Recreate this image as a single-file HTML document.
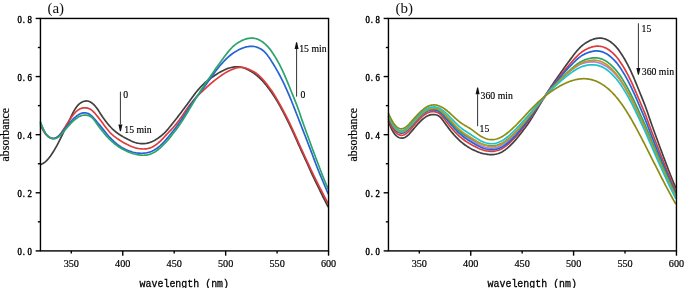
<!DOCTYPE html>
<html><head><meta charset="utf-8"><style>
html,body{margin:0;padding:0;background:#fff;}
body{width:685px;height:288px;overflow:hidden;}
svg{display:block;will-change:transform;}
.ax line,.ax rect{stroke:#000;stroke-width:1.4;}
.yt{font-family:"Liberation Serif",serif;font-size:10.2px;fill:#000;stroke:#000;stroke-width:0.45px;}
.xt{font-family:"Liberation Serif",serif;font-size:10.2px;text-anchor:middle;fill:#000;stroke:#000;stroke-width:0.2px;}
.xl{font-family:"Liberation Mono",monospace;font-size:10.8px;text-anchor:middle;fill:#000;stroke:#000;stroke-width:0.3px;}
.yl{font-family:"Liberation Serif",serif;font-size:11.9px;text-anchor:middle;fill:#000;stroke:#000;stroke-width:0.2px;}
.pl{font-family:"Liberation Serif",serif;font-size:15px;fill:#111;}
.an{font-family:"Liberation Serif",serif;font-size:9.75px;fill:#000;stroke:#000;stroke-width:0.15px;}
.cv path{fill:none;stroke-width:1.7;stroke-linejoin:round;stroke-linecap:butt;}
.ar{stroke:#333;stroke-width:1;}
.ah{fill:#111;}
</style></head><body>
<svg width="685" height="288" viewBox="0 0 685 288">
<g class="cv">
<path d="M40.3,164.79L41.3,164.31L42.3,163.80L43.3,163.23L44.3,162.58L45.3,161.82L46.3,160.93L47.3,159.91L48.3,158.76L49.3,157.50L50.3,156.16L51.3,154.74L52.3,153.25L53.3,151.70L54.3,150.08L55.3,148.40L56.3,146.65L57.3,144.83L58.3,142.93L59.3,140.96L60.3,138.94L61.3,136.88L62.3,134.81L63.3,132.74L64.3,130.68L65.3,128.62L66.3,126.57L67.3,124.51L68.3,122.44L69.3,120.36L70.3,118.26L71.3,116.17L72.3,114.12L73.3,112.16L74.3,110.32L75.3,108.66L76.3,107.19L77.3,105.91L78.3,104.83L79.3,103.92L80.3,103.15L81.3,102.50L82.3,101.97L83.3,101.54L84.3,101.22L85.3,101.03L86.3,100.96L87.3,101.02L88.3,101.21L89.3,101.53L90.3,101.98L91.3,102.57L92.3,103.29L93.3,104.14L94.3,105.10L95.3,106.20L96.3,107.42L97.3,108.79L98.3,110.28L99.3,111.86L100.3,113.46L101.3,115.03L102.3,116.53L103.3,117.96L104.3,119.32L105.3,120.65L106.3,121.94L107.3,123.20L108.3,124.42L109.3,125.59L110.3,126.70L111.3,127.77L112.3,128.79L113.3,129.75L114.3,130.65L115.3,131.50L116.3,132.30L117.3,133.05L118.3,133.76L119.3,134.43L120.3,135.08L121.3,135.69L122.3,136.29L123.3,136.88L124.3,137.44L125.3,138.00L126.3,138.55L127.3,139.08L128.3,139.61L129.3,140.11L130.3,140.59L131.3,141.05L132.3,141.47L133.3,141.86L134.3,142.22L135.3,142.53L136.3,142.81L137.3,143.05L138.3,143.25L139.3,143.41L140.3,143.53L141.3,143.61L142.3,143.66L143.3,143.65L144.3,143.60L145.3,143.50L146.3,143.35L147.3,143.16L148.3,142.91L149.3,142.63L150.3,142.29L151.3,141.91L152.3,141.48L153.3,141.00L154.3,140.48L155.3,139.92L156.3,139.31L157.3,138.67L158.3,137.99L159.3,137.27L160.3,136.51L161.3,135.72L162.3,134.89L163.3,134.00L164.3,133.06L165.3,132.06L166.3,130.99L167.3,129.88L168.3,128.72L169.3,127.54L170.3,126.32L171.3,125.09L172.3,123.84L173.3,122.58L174.3,121.30L175.3,120.02L176.3,118.72L177.3,117.42L178.3,116.11L179.3,114.80L180.3,113.49L181.3,112.17L182.3,110.85L183.3,109.53L184.3,108.20L185.3,106.86L186.3,105.51L187.3,104.16L188.3,102.79L189.3,101.41L190.3,100.04L191.3,98.66L192.3,97.30L193.3,95.96L194.3,94.63L195.3,93.33L196.3,92.05L197.3,90.81L198.3,89.61L199.3,88.46L200.3,87.35L201.3,86.29L202.3,85.27L203.3,84.31L204.3,83.39L205.3,82.51L206.3,81.67L207.3,80.86L208.3,80.07L209.3,79.31L210.3,78.57L211.3,77.85L212.3,77.13L213.3,76.44L214.3,75.75L215.3,75.08L216.3,74.42L217.3,73.77L218.3,73.15L219.3,72.55L220.3,71.97L221.3,71.42L222.3,70.90L223.3,70.40L224.3,69.92L225.3,69.47L226.3,69.05L227.3,68.66L228.3,68.31L229.3,67.99L230.3,67.71L231.3,67.47L232.3,67.26L233.3,67.09L234.3,66.95L235.3,66.85L236.3,66.80L237.3,66.79L238.3,66.82L239.3,66.91L240.3,67.04L241.3,67.22L242.3,67.44L243.3,67.72L244.3,68.05L245.3,68.44L246.3,68.88L247.3,69.36L248.3,69.88L249.3,70.43L250.3,71.00L251.3,71.59L252.3,72.21L253.3,72.86L254.3,73.56L255.3,74.31L256.3,75.10L257.3,75.94L258.3,76.82L259.3,77.74L260.3,78.69L261.3,79.67L262.3,80.70L263.3,81.77L264.3,82.90L265.3,84.09L266.3,85.33L267.3,86.61L268.3,87.94L269.3,89.30L270.3,90.68L271.3,92.09L272.3,93.52L273.3,95.00L274.3,96.52L275.3,98.10L276.3,99.73L277.3,101.40L278.3,103.12L279.3,104.87L280.3,106.66L281.3,108.47L282.3,110.31L283.3,112.19L284.3,114.10L285.3,116.05L286.3,118.04L287.3,120.05L288.3,122.10L289.3,124.17L290.3,126.27L291.3,128.40L292.3,130.56L293.3,132.75L294.3,134.99L295.3,137.24L296.3,139.51L297.3,141.78L298.3,144.03L299.3,146.25L300.3,148.44L301.3,150.61L302.3,152.77L303.3,154.94L304.3,157.11L305.3,159.31L306.3,161.52L307.3,163.74L308.3,165.97L309.3,168.20L310.3,170.41L311.3,172.61L312.3,174.78L313.3,176.90L314.3,178.99L315.3,181.03L316.3,183.06L317.3,185.09L318.3,187.14L319.3,189.21L320.3,191.31L321.3,193.40L322.3,195.47L323.3,197.50L324.3,199.49L325.3,201.45L326.3,203.39L327.3,205.31L328.3,207.21" stroke="#404040"/>
<path d="M40.3,124.55L41.3,126.79L42.3,128.89L43.3,130.77L44.3,132.41L45.3,133.81L46.3,134.98L47.3,135.94L48.3,136.72L49.3,137.35L50.3,137.83L51.3,138.19L52.3,138.41L53.3,138.49L54.3,138.43L55.3,138.22L56.3,137.83L57.3,137.24L58.3,136.43L59.3,135.39L60.3,134.16L61.3,132.78L62.3,131.29L63.3,129.76L64.3,128.19L65.3,126.61L66.3,125.03L67.3,123.46L68.3,121.90L69.3,120.37L70.3,118.88L71.3,117.44L72.3,116.06L73.3,114.76L74.3,113.56L75.3,112.47L76.3,111.48L77.3,110.61L78.3,109.85L79.3,109.22L80.3,108.71L81.3,108.32L82.3,108.04L83.3,107.86L84.3,107.77L85.3,107.78L86.3,107.87L87.3,108.05L88.3,108.34L89.3,108.73L90.3,109.24L91.3,109.88L92.3,110.66L93.3,111.58L94.3,112.61L95.3,113.74L96.3,114.93L97.3,116.15L98.3,117.40L99.3,118.67L100.3,119.98L101.3,121.31L102.3,122.66L103.3,124.02L104.3,125.38L105.3,126.73L106.3,128.05L107.3,129.33L108.3,130.55L109.3,131.72L110.3,132.80L111.3,133.80L112.3,134.72L113.3,135.58L114.3,136.39L115.3,137.16L116.3,137.90L117.3,138.62L118.3,139.32L119.3,139.99L120.3,140.64L121.3,141.27L122.3,141.87L123.3,142.45L124.3,143.01L125.3,143.55L126.3,144.07L127.3,144.58L128.3,145.06L129.3,145.54L130.3,145.99L131.3,146.41L132.3,146.81L133.3,147.18L134.3,147.51L135.3,147.81L136.3,148.06L137.3,148.29L138.3,148.48L139.3,148.65L140.3,148.78L141.3,148.89L142.3,148.96L143.3,148.99L144.3,148.97L145.3,148.90L146.3,148.79L147.3,148.63L148.3,148.43L149.3,148.16L150.3,147.83L151.3,147.44L152.3,146.97L153.3,146.43L154.3,145.84L155.3,145.18L156.3,144.47L157.3,143.71L158.3,142.89L159.3,142.01L160.3,141.09L161.3,140.12L162.3,139.11L163.3,138.07L164.3,137.01L165.3,135.93L166.3,134.86L167.3,133.78L168.3,132.72L169.3,131.66L170.3,130.61L171.3,129.57L172.3,128.50L173.3,127.42L174.3,126.29L175.3,125.12L176.3,123.90L177.3,122.64L178.3,121.32L179.3,119.97L180.3,118.58L181.3,117.17L182.3,115.74L183.3,114.28L184.3,112.80L185.3,111.31L186.3,109.82L187.3,108.35L188.3,106.91L189.3,105.53L190.3,104.19L191.3,102.91L192.3,101.67L193.3,100.47L194.3,99.32L195.3,98.20L196.3,97.11L197.3,96.07L198.3,95.05L199.3,94.08L200.3,93.13L201.3,92.20L202.3,91.28L203.3,90.37L204.3,89.45L205.3,88.53L206.3,87.61L207.3,86.69L208.3,85.77L209.3,84.87L210.3,83.99L211.3,83.13L212.3,82.29L213.3,81.48L214.3,80.67L215.3,79.89L216.3,79.11L217.3,78.35L218.3,77.60L219.3,76.87L220.3,76.15L221.3,75.45L222.3,74.78L223.3,74.12L224.3,73.49L225.3,72.88L226.3,72.30L227.3,71.74L228.3,71.21L229.3,70.70L230.3,70.22L231.3,69.77L232.3,69.35L233.3,68.96L234.3,68.61L235.3,68.28L236.3,68.00L237.3,67.76L238.3,67.58L239.3,67.46L240.3,67.41L241.3,67.42L242.3,67.50L243.3,67.64L244.3,67.84L245.3,68.10L246.3,68.41L247.3,68.76L248.3,69.14L249.3,69.55L250.3,69.98L251.3,70.43L252.3,70.92L253.3,71.44L254.3,72.01L255.3,72.63L256.3,73.31L257.3,74.06L258.3,74.88L259.3,75.77L260.3,76.74L261.3,77.76L262.3,78.84L263.3,79.97L264.3,81.13L265.3,82.34L266.3,83.58L267.3,84.86L268.3,86.18L269.3,87.54L270.3,88.93L271.3,90.36L272.3,91.82L273.3,93.32L274.3,94.87L275.3,96.48L276.3,98.13L277.3,99.84L278.3,101.59L279.3,103.38L280.3,105.18L281.3,107.00L282.3,108.83L283.3,110.68L284.3,112.54L285.3,114.42L286.3,116.34L287.3,118.31L288.3,120.32L289.3,122.39L290.3,124.50L291.3,126.64L292.3,128.81L293.3,130.99L294.3,133.19L295.3,135.40L296.3,137.63L297.3,139.86L298.3,142.09L299.3,144.31L300.3,146.53L301.3,148.74L302.3,150.93L303.3,153.13L304.3,155.31L305.3,157.49L306.3,159.66L307.3,161.83L308.3,163.98L309.3,166.13L310.3,168.26L311.3,170.37L312.3,172.45L313.3,174.52L314.3,176.56L315.3,178.59L316.3,180.60L317.3,182.60L318.3,184.59L319.3,186.57L320.3,188.54L321.3,190.50L322.3,192.45L323.3,194.39L324.3,196.31L325.3,198.22L326.3,200.13L327.3,202.02L328.3,203.92" stroke="#e03b3b"/>
<path d="M40.3,122.61L41.3,124.87L42.3,127.10L43.3,129.23L44.3,131.19L45.3,132.90L46.3,134.32L47.3,135.48L48.3,136.41L49.3,137.14L50.3,137.71L51.3,138.13L52.3,138.38L53.3,138.45L54.3,138.34L55.3,138.05L56.3,137.59L57.3,136.98L58.3,136.21L59.3,135.31L60.3,134.30L61.3,133.21L62.3,132.04L63.3,130.82L64.3,129.56L65.3,128.27L66.3,126.98L67.3,125.71L68.3,124.45L69.3,123.24L70.3,122.07L71.3,120.97L72.3,119.92L73.3,118.92L74.3,117.99L75.3,117.11L76.3,116.29L77.3,115.54L78.3,114.87L79.3,114.29L80.3,113.80L81.3,113.41L82.3,113.12L83.3,112.93L84.3,112.84L85.3,112.87L86.3,113.00L87.3,113.25L88.3,113.62L89.3,114.13L90.3,114.79L91.3,115.60L92.3,116.55L93.3,117.60L94.3,118.71L95.3,119.87L96.3,121.05L97.3,122.24L98.3,123.44L99.3,124.66L100.3,125.89L101.3,127.13L102.3,128.38L103.3,129.63L104.3,130.89L105.3,132.13L106.3,133.36L107.3,134.56L108.3,135.71L109.3,136.83L110.3,137.90L111.3,138.93L112.3,139.93L113.3,140.88L114.3,141.79L115.3,142.67L116.3,143.51L117.3,144.31L118.3,145.07L119.3,145.80L120.3,146.49L121.3,147.15L122.3,147.76L123.3,148.34L124.3,148.87L125.3,149.37L126.3,149.83L127.3,150.25L128.3,150.65L129.3,151.02L130.3,151.36L131.3,151.68L132.3,151.98L133.3,152.25L134.3,152.49L135.3,152.70L136.3,152.87L137.3,153.01L138.3,153.11L139.3,153.18L140.3,153.23L141.3,153.25L142.3,153.24L143.3,153.21L144.3,153.14L145.3,153.03L146.3,152.88L147.3,152.70L148.3,152.47L149.3,152.19L150.3,151.86L151.3,151.47L152.3,151.02L153.3,150.52L154.3,149.96L155.3,149.35L156.3,148.69L157.3,147.98L158.3,147.22L159.3,146.40L160.3,145.54L161.3,144.62L162.3,143.66L163.3,142.65L164.3,141.59L165.3,140.49L166.3,139.35L167.3,138.17L168.3,136.96L169.3,135.74L170.3,134.50L171.3,133.26L172.3,132.01L173.3,130.76L174.3,129.50L175.3,128.23L176.3,126.93L177.3,125.60L178.3,124.24L179.3,122.85L180.3,121.43L181.3,119.97L182.3,118.49L183.3,116.97L184.3,115.42L185.3,113.84L186.3,112.22L187.3,110.58L188.3,108.95L189.3,107.33L190.3,105.75L191.3,104.23L192.3,102.76L193.3,101.34L194.3,99.96L195.3,98.62L196.3,97.31L197.3,96.03L198.3,94.77L199.3,93.51L200.3,92.26L201.3,90.99L202.3,89.69L203.3,88.36L204.3,86.99L205.3,85.59L206.3,84.17L207.3,82.75L208.3,81.32L209.3,79.91L210.3,78.50L211.3,77.10L212.3,75.70L213.3,74.31L214.3,72.92L215.3,71.56L216.3,70.22L217.3,68.91L218.3,67.66L219.3,66.45L220.3,65.28L221.3,64.16L222.3,63.06L223.3,62.00L224.3,60.95L225.3,59.93L226.3,58.92L227.3,57.95L228.3,57.00L229.3,56.10L230.3,55.26L231.3,54.47L232.3,53.73L233.3,53.04L234.3,52.39L235.3,51.77L236.3,51.18L237.3,50.62L238.3,50.08L239.3,49.56L240.3,49.07L241.3,48.62L242.3,48.20L243.3,47.82L244.3,47.49L245.3,47.19L246.3,46.93L247.3,46.72L248.3,46.54L249.3,46.40L250.3,46.32L251.3,46.28L252.3,46.30L253.3,46.38L254.3,46.53L255.3,46.74L256.3,47.02L257.3,47.36L258.3,47.75L259.3,48.21L260.3,48.73L261.3,49.32L262.3,49.99L263.3,50.76L264.3,51.64L265.3,52.64L266.3,53.77L267.3,55.03L268.3,56.39L269.3,57.83L270.3,59.33L271.3,60.88L272.3,62.46L273.3,64.07L274.3,65.71L275.3,67.39L276.3,69.12L277.3,70.88L278.3,72.69L279.3,74.53L280.3,76.42L281.3,78.36L282.3,80.35L283.3,82.39L284.3,84.47L285.3,86.60L286.3,88.79L287.3,91.03L288.3,93.32L289.3,95.68L290.3,98.09L291.3,100.54L292.3,103.04L293.3,105.56L294.3,108.11L295.3,110.66L296.3,113.20L297.3,115.74L298.3,118.28L299.3,120.84L300.3,123.41L301.3,125.99L302.3,128.58L303.3,131.17L304.3,133.75L305.3,136.31L306.3,138.87L307.3,141.44L308.3,144.02L309.3,146.63L310.3,149.26L311.3,151.91L312.3,154.57L313.3,157.24L314.3,159.91L315.3,162.57L316.3,165.20L317.3,167.79L318.3,170.31L319.3,172.77L320.3,175.18L321.3,177.54L322.3,179.89L323.3,182.25L324.3,184.60L325.3,186.97L326.3,189.35L327.3,191.73L328.3,194.12" stroke="#2563d6"/>
<path d="M40.3,121.63L41.3,124.32L42.3,126.85L43.3,129.17L44.3,131.21L45.3,132.94L46.3,134.38L47.3,135.55L48.3,136.49L49.3,137.25L50.3,137.85L51.3,138.29L52.3,138.59L53.3,138.73L54.3,138.72L55.3,138.55L56.3,138.23L57.3,137.75L58.3,137.11L59.3,136.33L60.3,135.41L61.3,134.39L62.3,133.29L63.3,132.14L64.3,130.95L65.3,129.76L66.3,128.57L67.3,127.39L68.3,126.23L69.3,125.11L70.3,124.02L71.3,122.97L72.3,121.97L73.3,121.01L74.3,120.09L75.3,119.24L76.3,118.45L77.3,117.73L78.3,117.09L79.3,116.54L80.3,116.09L81.3,115.73L82.3,115.46L83.3,115.28L84.3,115.17L85.3,115.14L86.3,115.19L87.3,115.32L88.3,115.56L89.3,115.90L90.3,116.39L91.3,117.06L92.3,117.92L93.3,119.00L94.3,120.24L95.3,121.61L96.3,123.02L97.3,124.44L98.3,125.82L99.3,127.16L100.3,128.47L101.3,129.75L102.3,131.02L103.3,132.26L104.3,133.49L105.3,134.68L106.3,135.83L107.3,136.94L108.3,138.01L109.3,139.03L110.3,140.01L111.3,140.95L112.3,141.85L113.3,142.71L114.3,143.53L115.3,144.33L116.3,145.09L117.3,145.82L118.3,146.52L119.3,147.19L120.3,147.82L121.3,148.42L122.3,148.98L123.3,149.52L124.3,150.03L125.3,150.52L126.3,150.99L127.3,151.44L128.3,151.88L129.3,152.30L130.3,152.70L131.3,153.07L132.3,153.42L133.3,153.73L134.3,154.00L135.3,154.24L136.3,154.45L137.3,154.63L138.3,154.79L139.3,154.93L140.3,155.05L141.3,155.14L142.3,155.21L143.3,155.24L144.3,155.22L145.3,155.15L146.3,155.04L147.3,154.87L148.3,154.65L149.3,154.39L150.3,154.08L151.3,153.71L152.3,153.29L153.3,152.82L154.3,152.28L155.3,151.68L156.3,151.01L157.3,150.29L158.3,149.52L159.3,148.69L160.3,147.81L161.3,146.89L162.3,145.92L163.3,144.93L164.3,143.92L165.3,142.90L166.3,141.85L167.3,140.76L168.3,139.62L169.3,138.42L170.3,137.17L171.3,135.89L172.3,134.59L173.3,133.29L174.3,131.99L175.3,130.70L176.3,129.39L177.3,128.07L178.3,126.71L179.3,125.31L180.3,123.86L181.3,122.35L182.3,120.81L183.3,119.23L184.3,117.62L185.3,115.99L186.3,114.36L187.3,112.70L188.3,111.04L189.3,109.37L190.3,107.69L191.3,106.01L192.3,104.33L193.3,102.65L194.3,100.98L195.3,99.32L196.3,97.67L197.3,96.04L198.3,94.43L199.3,92.85L200.3,91.27L201.3,89.72L202.3,88.18L203.3,86.66L204.3,85.15L205.3,83.67L206.3,82.21L207.3,80.77L208.3,79.35L209.3,77.94L210.3,76.52L211.3,75.09L212.3,73.65L213.3,72.19L214.3,70.73L215.3,69.28L216.3,67.85L217.3,66.43L218.3,65.04L219.3,63.67L220.3,62.30L221.3,60.93L222.3,59.56L223.3,58.19L224.3,56.83L225.3,55.48L226.3,54.16L227.3,52.88L228.3,51.65L229.3,50.47L230.3,49.33L231.3,48.25L232.3,47.22L233.3,46.26L234.3,45.38L235.3,44.58L236.3,43.85L237.3,43.17L238.3,42.54L239.3,41.95L240.3,41.39L241.3,40.86L242.3,40.37L243.3,39.92L244.3,39.52L245.3,39.18L246.3,38.88L247.3,38.63L248.3,38.43L249.3,38.28L250.3,38.18L251.3,38.13L252.3,38.13L253.3,38.20L254.3,38.34L255.3,38.53L256.3,38.79L257.3,39.12L258.3,39.51L259.3,39.98L260.3,40.51L261.3,41.12L262.3,41.80L263.3,42.53L264.3,43.33L265.3,44.20L266.3,45.12L267.3,46.12L268.3,47.20L269.3,48.36L270.3,49.63L271.3,50.98L272.3,52.43L273.3,53.95L274.3,55.51L275.3,57.13L276.3,58.79L277.3,60.51L278.3,62.30L279.3,64.15L280.3,66.09L281.3,68.11L282.3,70.21L283.3,72.39L284.3,74.62L285.3,76.91L286.3,79.25L287.3,81.64L288.3,84.06L289.3,86.52L290.3,89.00L291.3,91.49L292.3,93.96L293.3,96.42L294.3,98.85L295.3,101.31L296.3,103.83L297.3,106.45L298.3,109.21L299.3,112.09L300.3,115.04L301.3,117.99L302.3,120.89L303.3,123.73L304.3,126.51L305.3,129.26L306.3,132.01L307.3,134.76L308.3,137.51L309.3,140.27L310.3,143.02L311.3,145.74L312.3,148.44L313.3,151.12L314.3,153.79L315.3,156.45L316.3,159.11L317.3,161.76L318.3,164.42L319.3,167.06L320.3,169.69L321.3,172.29L322.3,174.85L323.3,177.36L324.3,179.81L325.3,182.23L326.3,184.62L327.3,187.01L328.3,189.41" stroke="#2ea36a"/>
<path d="M388.4,116.44L389.4,118.91L390.4,121.21L391.4,123.33L392.4,125.24L393.4,126.91L394.4,128.36L395.4,129.58L396.4,130.59L397.4,131.41L398.4,132.05L399.4,132.50L400.4,132.78L401.4,132.89L402.4,132.83L403.4,132.61L404.4,132.23L405.4,131.69L406.4,131.01L407.4,130.19L408.4,129.27L409.4,128.25L410.4,127.17L411.4,126.05L412.4,124.91L413.4,123.77L414.4,122.63L415.4,121.51L416.4,120.40L417.4,119.32L418.4,118.27L419.4,117.26L420.4,116.29L421.4,115.36L422.4,114.47L423.4,113.65L424.4,112.88L425.4,112.18L426.4,111.55L427.4,111.00L428.4,110.54L429.4,110.17L430.4,109.88L431.4,109.68L432.4,109.57L433.4,109.53L434.4,109.58L435.4,109.70L436.4,109.92L437.4,110.22L438.4,110.63L439.4,111.17L440.4,111.83L441.4,112.63L442.4,113.55L443.4,114.55L444.4,115.61L445.4,116.70L446.4,117.80L447.4,118.89L448.4,120.00L449.4,121.11L450.4,122.23L451.4,123.35L452.4,124.47L453.4,125.57L454.4,126.65L455.4,127.71L456.4,128.74L457.4,129.74L458.4,130.69L459.4,131.60L460.4,132.47L461.4,133.29L462.4,134.08L463.4,134.83L464.4,135.56L465.4,136.26L466.4,136.94L467.4,137.60L468.4,138.25L469.4,138.89L470.4,139.52L471.4,140.15L472.4,140.78L473.4,141.40L474.4,142.02L475.4,142.63L476.4,143.23L477.4,143.81L478.4,144.36L479.4,144.89L480.4,145.39L481.4,145.84L482.4,146.25L483.4,146.62L484.4,146.96L485.4,147.25L486.4,147.50L487.4,147.72L488.4,147.90L489.4,148.03L490.4,148.12L491.4,148.15L492.4,148.13L493.4,148.05L494.4,147.91L495.4,147.71L496.4,147.46L497.4,147.16L498.4,146.80L499.4,146.39L500.4,145.93L501.4,145.41L502.4,144.84L503.4,144.22L504.4,143.54L505.4,142.81L506.4,142.04L507.4,141.22L508.4,140.35L509.4,139.45L510.4,138.51L511.4,137.54L512.4,136.56L513.4,135.55L514.4,134.52L515.4,133.46L516.4,132.36L517.4,131.23L518.4,130.06L519.4,128.87L520.4,127.66L521.4,126.46L522.4,125.25L523.4,124.04L524.4,122.82L525.4,121.60L526.4,120.36L527.4,119.09L528.4,117.81L529.4,116.50L530.4,115.18L531.4,113.85L532.4,112.51L533.4,111.17L534.4,109.84L535.4,108.51L536.4,107.18L537.4,105.86L538.4,104.55L539.4,103.24L540.4,101.95L541.4,100.67L542.4,99.40L543.4,98.15L544.4,96.91L545.4,95.70L546.4,94.50L547.4,93.33L548.4,92.17L549.4,91.03L550.4,89.92L551.4,88.82L552.4,87.75L553.4,86.69L554.4,85.66L555.4,84.65L556.4,83.65L557.4,82.67L558.4,81.70L559.4,80.74L560.4,79.77L561.4,78.81L562.4,77.86L563.4,76.93L564.4,76.01L565.4,75.12L566.4,74.25L567.4,73.40L568.4,72.57L569.4,71.75L570.4,70.94L571.4,70.15L572.4,69.37L573.4,68.61L574.4,67.89L575.4,67.20L576.4,66.55L577.4,65.93L578.4,65.35L579.4,64.81L580.4,64.31L581.4,63.87L582.4,63.47L583.4,63.12L584.4,62.83L585.4,62.58L586.4,62.36L587.4,62.19L588.4,62.04L589.4,61.93L590.4,61.86L591.4,61.83L592.4,61.83L593.4,61.88L594.4,61.97L595.4,62.11L596.4,62.28L597.4,62.49L598.4,62.74L599.4,63.03L600.4,63.37L601.4,63.75L602.4,64.18L603.4,64.65L604.4,65.17L605.4,65.74L606.4,66.36L607.4,67.03L608.4,67.76L609.4,68.54L610.4,69.36L611.4,70.24L612.4,71.17L613.4,72.15L614.4,73.18L615.4,74.26L616.4,75.41L617.4,76.61L618.4,77.88L619.4,79.21L620.4,80.61L621.4,82.06L622.4,83.56L623.4,85.09L624.4,86.67L625.4,88.30L626.4,89.97L627.4,91.70L628.4,93.47L629.4,95.31L630.4,97.19L631.4,99.13L632.4,101.10L633.4,103.11L634.4,105.16L635.4,107.23L636.4,109.34L637.4,111.47L638.4,113.62L639.4,115.77L640.4,117.94L641.4,120.09L642.4,122.25L643.4,124.42L644.4,126.63L645.4,128.88L646.4,131.20L647.4,133.57L648.4,135.97L649.4,138.37L650.4,140.76L651.4,143.12L652.4,145.46L653.4,147.78L654.4,150.09L655.4,152.41L656.4,154.73L657.4,157.05L658.4,159.36L659.4,161.66L660.4,163.94L661.4,166.21L662.4,168.47L663.4,170.72L664.4,172.96L665.4,175.20L666.4,177.42L667.4,179.64L668.4,181.84L669.4,184.01L670.4,186.16L671.4,188.28L672.4,190.36L673.4,192.41L674.4,194.44L675.4,196.46L675.9,197.46" stroke="#b07fe0"/>
<path d="M388.4,121.03L389.4,123.72L390.4,126.25L391.4,128.57L392.4,130.61L393.4,132.34L394.4,133.78L395.4,134.95L396.4,135.89L397.4,136.65L398.4,137.25L399.4,137.69L400.4,137.99L401.4,138.13L402.4,138.12L403.4,137.95L404.4,137.63L405.4,137.15L406.4,136.51L407.4,135.73L408.4,134.81L409.4,133.79L410.4,132.69L411.4,131.54L412.4,130.35L413.4,129.16L414.4,127.97L415.4,126.79L416.4,125.63L417.4,124.51L418.4,123.42L419.4,122.37L420.4,121.37L421.4,120.41L422.4,119.49L423.4,118.64L424.4,117.85L425.4,117.13L426.4,116.49L427.4,115.94L428.4,115.49L429.4,115.13L430.4,114.86L431.4,114.68L432.4,114.57L433.4,114.54L434.4,114.59L435.4,114.72L436.4,114.96L437.4,115.30L438.4,115.79L439.4,116.46L440.4,117.32L441.4,118.40L442.4,119.64L443.4,121.01L444.4,122.42L445.4,123.84L446.4,125.22L447.4,126.56L448.4,127.87L449.4,129.15L450.4,130.42L451.4,131.66L452.4,132.89L453.4,134.08L454.4,135.23L455.4,136.34L456.4,137.41L457.4,138.43L458.4,139.41L459.4,140.35L460.4,141.25L461.4,142.11L462.4,142.93L463.4,143.73L464.4,144.49L465.4,145.22L466.4,145.92L467.4,146.59L468.4,147.22L469.4,147.82L470.4,148.38L471.4,148.92L472.4,149.43L473.4,149.92L474.4,150.39L475.4,150.84L476.4,151.28L477.4,151.70L478.4,152.10L479.4,152.47L480.4,152.82L481.4,153.13L482.4,153.40L483.4,153.64L484.4,153.85L485.4,154.03L486.4,154.19L487.4,154.33L488.4,154.45L489.4,154.54L490.4,154.61L491.4,154.64L492.4,154.62L493.4,154.55L494.4,154.44L495.4,154.27L496.4,154.05L497.4,153.79L498.4,153.48L499.4,153.11L500.4,152.69L501.4,152.22L502.4,151.68L503.4,151.08L504.4,150.41L505.4,149.69L506.4,148.92L507.4,148.09L508.4,147.21L509.4,146.29L510.4,145.32L511.4,144.33L512.4,143.32L513.4,142.30L514.4,141.25L515.4,140.16L516.4,139.02L517.4,137.82L518.4,136.57L519.4,135.29L520.4,133.99L521.4,132.69L522.4,131.39L523.4,130.10L524.4,128.79L525.4,127.47L526.4,126.11L527.4,124.71L528.4,123.26L529.4,121.75L530.4,120.21L531.4,118.63L532.4,117.02L533.4,115.39L534.4,113.76L535.4,112.10L536.4,110.44L537.4,108.77L538.4,107.09L539.4,105.41L540.4,103.73L541.4,102.05L542.4,100.38L543.4,98.72L544.4,97.07L545.4,95.44L546.4,93.83L547.4,92.25L548.4,90.68L549.4,89.13L550.4,87.60L551.4,86.09L552.4,84.61L553.4,83.14L554.4,81.70L555.4,80.28L556.4,78.88L557.4,77.48L558.4,76.09L559.4,74.68L560.4,73.26L561.4,71.82L562.4,70.38L563.4,68.95L564.4,67.53L565.4,66.14L566.4,64.77L567.4,63.42L568.4,62.07L569.4,60.72L570.4,59.37L571.4,58.02L572.4,56.68L573.4,55.35L574.4,54.05L575.4,52.79L576.4,51.58L577.4,50.41L578.4,49.29L579.4,48.22L580.4,47.20L581.4,46.25L582.4,45.38L583.4,44.58L584.4,43.85L585.4,43.17L586.4,42.54L587.4,41.95L588.4,41.39L589.4,40.86L590.4,40.37L591.4,39.92L592.4,39.52L593.4,39.18L594.4,38.88L595.4,38.63L596.4,38.43L597.4,38.28L598.4,38.18L599.4,38.13L600.4,38.13L601.4,38.20L602.4,38.34L603.4,38.53L604.4,38.79L605.4,39.12L606.4,39.51L607.4,39.98L608.4,40.51L609.4,41.12L610.4,41.80L611.4,42.53L612.4,43.33L613.4,44.20L614.4,45.12L615.4,46.12L616.4,47.20L617.4,48.36L618.4,49.63L619.4,50.98L620.4,52.43L621.4,53.95L622.4,55.51L623.4,57.13L624.4,58.79L625.4,60.51L626.4,62.30L627.4,64.15L628.4,66.09L629.4,68.11L630.4,70.21L631.4,72.39L632.4,74.62L633.4,76.91L634.4,79.25L635.4,81.64L636.4,84.06L637.4,86.52L638.4,89.00L639.4,91.49L640.4,93.96L641.4,96.42L642.4,98.85L643.4,101.31L644.4,103.83L645.4,106.45L646.4,109.21L647.4,112.09L648.4,115.04L649.4,117.99L650.4,120.89L651.4,123.73L652.4,126.51L653.4,129.26L654.4,132.01L655.4,134.76L656.4,137.51L657.4,140.27L658.4,143.02L659.4,145.74L660.4,148.44L661.4,151.12L662.4,153.79L663.4,156.45L664.4,159.11L665.4,161.76L666.4,164.42L667.4,167.06L668.4,169.69L669.4,172.29L670.4,174.85L671.4,177.36L672.4,179.81L673.4,182.22L674.4,184.61L675.4,186.98L675.9,188.17" stroke="#404040"/>
<path d="M388.4,118.66L389.4,121.22L390.4,123.63L391.4,125.84L392.4,127.80L393.4,129.50L394.4,130.93L395.4,132.12L396.4,133.09L397.4,133.87L398.4,134.48L399.4,134.92L400.4,135.19L401.4,135.30L402.4,135.25L403.4,135.03L404.4,134.66L405.4,134.12L406.4,133.44L407.4,132.62L408.4,131.67L409.4,130.63L410.4,129.52L411.4,128.36L412.4,127.19L413.4,126.00L414.4,124.82L415.4,123.65L416.4,122.51L417.4,121.40L418.4,120.33L419.4,119.29L420.4,118.30L421.4,117.36L422.4,116.47L423.4,115.63L424.4,114.86L425.4,114.16L426.4,113.53L427.4,112.99L428.4,112.54L429.4,112.18L430.4,111.91L431.4,111.73L432.4,111.63L433.4,111.62L434.4,111.68L435.4,111.83L436.4,112.08L437.4,112.44L438.4,112.92L439.4,113.56L440.4,114.37L441.4,115.35L442.4,116.49L443.4,117.73L444.4,119.03L445.4,120.35L446.4,121.65L447.4,122.93L448.4,124.19L449.4,125.42L450.4,126.64L451.4,127.85L452.4,129.03L453.4,130.18L454.4,131.29L455.4,132.37L456.4,133.40L457.4,134.40L458.4,135.35L459.4,136.26L460.4,137.13L461.4,137.95L462.4,138.74L463.4,139.50L464.4,140.23L465.4,140.93L466.4,141.60L467.4,142.25L468.4,142.87L469.4,143.47L470.4,144.06L471.4,144.63L472.4,145.19L473.4,145.73L474.4,146.26L475.4,146.78L476.4,147.29L477.4,147.78L478.4,148.25L479.4,148.69L480.4,149.10L481.4,149.47L482.4,149.81L483.4,150.11L484.4,150.37L485.4,150.60L486.4,150.81L487.4,150.98L488.4,151.13L489.4,151.25L490.4,151.33L491.4,151.37L492.4,151.36L493.4,151.29L494.4,151.17L495.4,151.01L496.4,150.79L497.4,150.52L498.4,150.20L499.4,149.83L500.4,149.41L501.4,148.93L502.4,148.39L503.4,147.80L504.4,147.14L505.4,146.43L506.4,145.67L507.4,144.87L508.4,144.01L509.4,143.11L510.4,142.17L511.4,141.21L512.4,140.23L513.4,139.23L514.4,138.20L515.4,137.14L516.4,136.03L517.4,134.87L518.4,133.68L519.4,132.45L520.4,131.21L521.4,129.96L522.4,128.72L523.4,127.47L524.4,126.22L525.4,124.95L526.4,123.65L527.4,122.32L528.4,120.95L529.4,119.54L530.4,118.10L531.4,116.63L532.4,115.15L533.4,113.65L534.4,112.15L535.4,110.63L536.4,109.11L537.4,107.59L538.4,106.06L539.4,104.54L540.4,103.02L541.4,101.50L542.4,99.99L543.4,98.49L544.4,97.01L545.4,95.54L546.4,94.09L547.4,92.67L548.4,91.26L549.4,89.87L550.4,88.49L551.4,87.14L552.4,85.81L553.4,84.49L554.4,83.20L555.4,81.93L556.4,80.68L557.4,79.43L558.4,78.19L559.4,76.94L560.4,75.67L561.4,74.41L562.4,73.14L563.4,71.88L564.4,70.64L565.4,69.41L566.4,68.21L567.4,67.03L568.4,65.85L569.4,64.68L570.4,63.51L571.4,62.35L572.4,61.19L573.4,60.05L574.4,58.93L575.4,57.86L576.4,56.82L577.4,55.83L578.4,54.88L579.4,53.97L580.4,53.11L581.4,52.31L582.4,51.58L583.4,50.91L584.4,50.30L585.4,49.75L586.4,49.24L587.4,48.76L588.4,48.31L589.4,47.90L590.4,47.53L591.4,47.19L592.4,46.90L593.4,46.66L594.4,46.46L595.4,46.32L596.4,46.22L597.4,46.17L598.4,46.17L599.4,46.23L600.4,46.34L601.4,46.52L602.4,46.76L603.4,47.06L604.4,47.43L605.4,47.86L606.4,48.35L607.4,48.91L608.4,49.54L609.4,50.24L610.4,51.00L611.4,51.81L612.4,52.69L613.4,53.62L614.4,54.62L615.4,55.68L616.4,56.81L617.4,58.02L618.4,59.32L619.4,60.70L620.4,62.17L621.4,63.69L622.4,65.27L623.4,66.89L624.4,68.55L625.4,70.27L626.4,72.05L627.4,73.89L628.4,75.80L629.4,77.79L630.4,79.84L631.4,81.96L632.4,84.14L633.4,86.36L634.4,88.62L635.4,90.91L636.4,93.25L637.4,95.61L638.4,97.99L639.4,100.37L640.4,102.74L641.4,105.09L642.4,107.44L643.4,109.79L644.4,112.19L645.4,114.68L646.4,117.28L647.4,119.97L648.4,122.71L649.4,125.46L650.4,128.17L651.4,130.83L652.4,133.45L653.4,136.04L654.4,138.62L655.4,141.21L656.4,143.80L657.4,146.40L658.4,148.98L659.4,151.55L660.4,154.10L661.4,156.62L662.4,159.14L663.4,161.65L664.4,164.15L665.4,166.65L666.4,169.15L667.4,171.63L668.4,174.10L669.4,176.55L670.4,178.96L671.4,181.32L672.4,183.64L673.4,185.92L674.4,188.17L675.4,190.41L675.9,191.53" stroke="#e03b3b"/>
<path d="M388.4,116.84L389.4,119.31L390.4,121.62L391.4,123.75L392.4,125.65L393.4,127.32L394.4,128.75L395.4,129.95L396.4,130.94L397.4,131.74L398.4,132.35L399.4,132.79L400.4,133.04L401.4,133.13L402.4,133.04L403.4,132.78L404.4,132.36L405.4,131.79L406.4,131.06L407.4,130.21L408.4,129.24L409.4,128.18L410.4,127.06L411.4,125.91L412.4,124.73L413.4,123.56L414.4,122.39L415.4,121.25L416.4,120.12L417.4,119.04L418.4,117.98L419.4,116.97L420.4,116.01L421.4,115.09L422.4,114.23L423.4,113.43L424.4,112.69L425.4,112.03L426.4,111.45L427.4,110.95L428.4,110.54L429.4,110.23L430.4,110.00L431.4,109.87L432.4,109.81L433.4,109.84L434.4,109.94L435.4,110.12L436.4,110.39L437.4,110.75L438.4,111.21L439.4,111.80L440.4,112.53L441.4,113.40L442.4,114.40L443.4,115.49L444.4,116.64L445.4,117.81L446.4,118.98L447.4,120.16L448.4,121.33L449.4,122.51L450.4,123.69L451.4,124.88L452.4,126.06L453.4,127.22L454.4,128.36L455.4,129.47L456.4,130.54L457.4,131.57L458.4,132.55L459.4,133.48L460.4,134.36L461.4,135.20L462.4,136.00L463.4,136.76L464.4,137.49L465.4,138.20L466.4,138.88L467.4,139.54L468.4,140.18L469.4,140.81L470.4,141.43L471.4,142.04L472.4,142.65L473.4,143.25L474.4,143.84L475.4,144.42L476.4,144.99L477.4,145.54L478.4,146.07L479.4,146.57L480.4,147.04L481.4,147.47L482.4,147.86L483.4,148.21L484.4,148.52L485.4,148.80L486.4,149.04L487.4,149.25L488.4,149.42L489.4,149.56L490.4,149.66L491.4,149.71L492.4,149.70L493.4,149.64L494.4,149.53L495.4,149.36L496.4,149.14L497.4,148.86L498.4,148.54L499.4,148.17L500.4,147.74L501.4,147.25L502.4,146.71L503.4,146.11L504.4,145.46L505.4,144.76L506.4,144.00L507.4,143.20L508.4,142.36L509.4,141.47L510.4,140.54L511.4,139.59L512.4,138.61L513.4,137.62L514.4,136.61L515.4,135.56L516.4,134.46L517.4,133.33L518.4,132.15L519.4,130.95L520.4,129.74L521.4,128.51L522.4,127.29L523.4,126.07L524.4,124.84L525.4,123.60L526.4,122.34L527.4,121.04L528.4,119.71L529.4,118.35L530.4,116.97L531.4,115.56L532.4,114.14L533.4,112.71L534.4,111.27L535.4,109.83L536.4,108.39L537.4,106.94L538.4,105.50L539.4,104.06L540.4,102.62L541.4,101.20L542.4,99.78L543.4,98.37L544.4,96.97L545.4,95.60L546.4,94.24L547.4,92.90L548.4,91.58L549.4,90.28L550.4,88.99L551.4,87.73L552.4,86.48L553.4,85.26L554.4,84.05L555.4,82.86L556.4,81.69L557.4,80.54L558.4,79.38L559.4,78.22L560.4,77.05L561.4,75.88L562.4,74.71L563.4,73.56L564.4,72.41L565.4,71.29L566.4,70.19L567.4,69.11L568.4,68.04L569.4,66.97L570.4,65.91L571.4,64.86L572.4,63.81L573.4,62.78L574.4,61.78L575.4,60.82L576.4,59.89L577.4,59.00L578.4,58.16L579.4,57.35L580.4,56.59L581.4,55.89L582.4,55.25L583.4,54.66L584.4,54.14L585.4,53.66L586.4,53.23L587.4,52.83L588.4,52.46L589.4,52.12L590.4,51.82L591.4,51.56L592.4,51.34L593.4,51.17L594.4,51.05L595.4,50.97L596.4,50.94L597.4,50.96L598.4,51.03L599.4,51.15L600.4,51.33L601.4,51.58L602.4,51.88L603.4,52.25L604.4,52.67L605.4,53.16L606.4,53.71L607.4,54.33L608.4,55.01L609.4,55.75L610.4,56.55L611.4,57.41L612.4,58.33L613.4,59.30L614.4,60.33L615.4,61.42L616.4,62.58L617.4,63.81L618.4,65.13L619.4,66.52L620.4,67.98L621.4,69.51L622.4,71.09L623.4,72.70L624.4,74.37L625.4,76.08L626.4,77.85L627.4,79.67L628.4,81.57L629.4,83.53L630.4,85.55L631.4,87.63L632.4,89.77L633.4,91.94L634.4,94.16L635.4,96.41L636.4,98.70L637.4,101.02L638.4,103.36L639.4,105.71L640.4,108.05L641.4,110.38L642.4,112.71L643.4,115.05L644.4,117.43L645.4,119.89L646.4,122.43L647.4,125.05L648.4,127.72L649.4,130.39L650.4,133.02L651.4,135.61L652.4,138.15L653.4,140.67L654.4,143.17L655.4,145.67L656.4,148.17L657.4,150.66L658.4,153.13L659.4,155.58L660.4,158.01L661.4,160.41L662.4,162.80L663.4,165.19L664.4,167.56L665.4,169.93L666.4,172.30L667.4,174.66L668.4,177.00L669.4,179.32L670.4,181.61L671.4,183.86L672.4,186.07L673.4,188.25L674.4,190.41L675.4,192.55L675.9,193.62" stroke="#2563d6"/>
<path d="M388.4,115.65L389.4,118.06L390.4,120.31L391.4,122.38L392.4,124.25L393.4,125.90L394.4,127.33L395.4,128.55L396.4,129.56L397.4,130.39L398.4,131.02L399.4,131.48L400.4,131.75L401.4,131.85L402.4,131.78L403.4,131.55L404.4,131.16L405.4,130.62L406.4,129.93L407.4,129.12L408.4,128.20L409.4,127.19L410.4,126.12L411.4,125.02L412.4,123.90L413.4,122.77L414.4,121.65L415.4,120.54L416.4,119.45L417.4,118.39L418.4,117.35L419.4,116.36L420.4,115.40L421.4,114.48L422.4,113.61L423.4,112.80L424.4,112.04L425.4,111.35L426.4,110.73L427.4,110.19L428.4,109.74L429.4,109.37L430.4,109.09L431.4,108.90L432.4,108.80L433.4,108.78L434.4,108.84L435.4,108.98L436.4,109.21L437.4,109.53L438.4,109.95L439.4,110.49L440.4,111.15L441.4,111.95L442.4,112.85L443.4,113.85L444.4,114.90L445.4,115.99L446.4,117.09L447.4,118.21L448.4,119.33L449.4,120.47L450.4,121.62L451.4,122.77L452.4,123.92L453.4,125.06L454.4,126.18L455.4,127.26L456.4,128.31L457.4,129.32L458.4,130.27L459.4,131.17L460.4,132.00L461.4,132.78L462.4,133.50L463.4,134.17L464.4,134.81L465.4,135.41L466.4,135.98L467.4,136.53L468.4,137.07L469.4,137.60L470.4,138.13L471.4,138.67L472.4,139.21L473.4,139.76L474.4,140.30L475.4,140.84L476.4,141.38L477.4,141.90L478.4,142.40L479.4,142.88L480.4,143.32L481.4,143.73L482.4,144.10L483.4,144.44L484.4,144.73L485.4,144.99L486.4,145.22L487.4,145.41L488.4,145.56L489.4,145.69L490.4,145.77L491.4,145.81L492.4,145.80L493.4,145.73L494.4,145.62L495.4,145.46L496.4,145.24L497.4,144.98L498.4,144.67L499.4,144.30L500.4,143.88L501.4,143.41L502.4,142.89L503.4,142.32L504.4,141.69L505.4,141.02L506.4,140.30L507.4,139.54L508.4,138.74L509.4,137.89L510.4,137.01L511.4,136.11L512.4,135.18L513.4,134.23L514.4,133.26L515.4,132.26L516.4,131.22L517.4,130.14L518.4,129.04L519.4,127.91L520.4,126.77L521.4,125.62L522.4,124.47L523.4,123.32L524.4,122.16L525.4,120.99L526.4,119.80L527.4,118.60L528.4,117.37L529.4,116.11L530.4,114.85L531.4,113.56L532.4,112.27L533.4,110.98L534.4,109.68L535.4,108.39L536.4,107.09L537.4,105.80L538.4,104.51L539.4,103.22L540.4,101.94L541.4,100.67L542.4,99.41L543.4,98.15L544.4,96.91L545.4,95.69L546.4,94.49L547.4,93.30L548.4,92.12L549.4,90.97L550.4,89.83L551.4,88.71L552.4,87.61L553.4,86.52L554.4,85.46L555.4,84.41L556.4,83.38L557.4,82.35L558.4,81.34L559.4,80.32L560.4,79.30L561.4,78.29L562.4,77.27L563.4,76.27L564.4,75.29L565.4,74.32L566.4,73.38L567.4,72.45L568.4,71.53L569.4,70.62L570.4,69.72L571.4,68.83L572.4,67.95L573.4,67.09L574.4,66.26L575.4,65.45L576.4,64.68L577.4,63.95L578.4,63.25L579.4,62.59L580.4,61.97L581.4,61.40L582.4,60.88L583.4,60.41L584.4,59.99L585.4,59.62L586.4,59.28L587.4,58.97L588.4,58.70L589.4,58.46L590.4,58.25L591.4,58.09L592.4,57.96L593.4,57.87L594.4,57.83L595.4,57.84L596.4,57.89L597.4,57.99L598.4,58.14L599.4,58.34L600.4,58.60L601.4,58.91L602.4,59.29L603.4,59.73L604.4,60.23L605.4,60.78L606.4,61.39L607.4,62.07L608.4,62.80L609.4,63.59L610.4,64.44L611.4,65.34L612.4,66.29L613.4,67.30L614.4,68.36L615.4,69.48L616.4,70.66L617.4,71.90L618.4,73.22L619.4,74.60L620.4,76.06L621.4,77.57L622.4,79.12L623.4,80.72L624.4,82.36L625.4,84.04L626.4,85.78L627.4,87.57L628.4,89.41L629.4,91.31L630.4,93.26L631.4,95.27L632.4,97.31L633.4,99.38L634.4,101.48L635.4,103.62L636.4,105.77L637.4,107.95L638.4,110.14L639.4,112.34L640.4,114.54L641.4,116.74L642.4,118.93L643.4,121.13L644.4,123.37L645.4,125.67L646.4,128.04L647.4,130.47L648.4,132.94L649.4,135.41L650.4,137.86L651.4,140.28L652.4,142.66L653.4,145.02L654.4,147.37L655.4,149.71L656.4,152.06L657.4,154.40L658.4,156.72L659.4,159.03L660.4,161.32L661.4,163.59L662.4,165.86L663.4,168.11L664.4,170.37L665.4,172.62L666.4,174.87L667.4,177.11L668.4,179.33L669.4,181.54L670.4,183.73L671.4,185.88L672.4,187.99L673.4,190.08L674.4,192.14L675.4,194.20L675.9,195.22" stroke="#2ea36a"/>
<path d="M388.4,115.73L389.4,118.14L390.4,120.40L391.4,122.48L392.4,124.34L393.4,125.99L394.4,127.42L395.4,128.64L396.4,129.65L397.4,130.47L398.4,131.10L399.4,131.54L400.4,131.80L401.4,131.89L402.4,131.81L403.4,131.56L404.4,131.15L405.4,130.59L406.4,129.88L407.4,129.04L408.4,128.10L409.4,127.07L410.4,125.98L411.4,124.85L412.4,123.71L413.4,122.56L414.4,121.42L415.4,120.29L416.4,119.17L417.4,118.09L418.4,117.04L419.4,116.02L420.4,115.04L421.4,114.10L422.4,113.21L423.4,112.37L424.4,111.60L425.4,110.89L426.4,110.25L427.4,109.69L428.4,109.21L429.4,108.82L430.4,108.51L431.4,108.30L432.4,108.18L433.4,108.14L434.4,108.18L435.4,108.30L436.4,108.51L437.4,108.81L438.4,109.20L439.4,109.71L440.4,110.32L441.4,111.05L442.4,111.89L443.4,112.80L444.4,113.76L445.4,114.76L446.4,115.78L447.4,116.82L448.4,117.87L449.4,118.93L450.4,120.02L451.4,121.11L452.4,122.21L453.4,123.31L454.4,124.39L455.4,125.46L456.4,126.51L457.4,127.52L458.4,128.50L459.4,129.44L460.4,130.33L461.4,131.16L462.4,131.95L463.4,132.70L464.4,133.42L465.4,134.10L466.4,134.77L467.4,135.41L468.4,136.04L469.4,136.67L470.4,137.30L471.4,137.93L472.4,138.57L473.4,139.22L474.4,139.86L475.4,140.49L476.4,141.12L477.4,141.73L478.4,142.32L479.4,142.88L480.4,143.40L481.4,143.89L482.4,144.33L483.4,144.73L484.4,145.09L485.4,145.41L486.4,145.68L487.4,145.92L488.4,146.12L489.4,146.27L490.4,146.38L491.4,146.43L492.4,146.42L493.4,146.36L494.4,146.24L495.4,146.06L496.4,145.83L497.4,145.55L498.4,145.22L499.4,144.83L500.4,144.39L501.4,143.90L502.4,143.35L503.4,142.75L504.4,142.10L505.4,141.40L506.4,140.66L507.4,139.87L508.4,139.05L509.4,138.18L510.4,137.27L511.4,136.34L512.4,135.39L513.4,134.42L514.4,133.42L515.4,132.39L516.4,131.33L517.4,130.23L518.4,129.10L519.4,127.95L520.4,126.79L521.4,125.62L522.4,124.45L523.4,123.28L524.4,122.10L525.4,120.91L526.4,119.70L527.4,118.48L528.4,117.24L529.4,115.97L530.4,114.69L531.4,113.40L532.4,112.11L533.4,110.81L534.4,109.52L535.4,108.23L536.4,106.94L537.4,105.65L538.4,104.38L539.4,103.10L540.4,101.84L541.4,100.59L542.4,99.35L543.4,98.12L544.4,96.90L545.4,95.71L546.4,94.53L547.4,93.37L548.4,92.23L549.4,91.10L550.4,89.99L551.4,88.90L552.4,87.83L553.4,86.78L554.4,85.74L555.4,84.73L556.4,83.73L557.4,82.74L558.4,81.76L559.4,80.78L560.4,79.81L561.4,78.83L562.4,77.86L563.4,76.91L564.4,75.97L565.4,75.05L566.4,74.16L567.4,73.28L568.4,72.41L569.4,71.56L570.4,70.71L571.4,69.88L572.4,69.05L573.4,68.25L574.4,67.48L575.4,66.74L576.4,66.03L577.4,65.36L578.4,64.72L579.4,64.12L580.4,63.56L581.4,63.05L582.4,62.58L583.4,62.17L584.4,61.81L585.4,61.49L586.4,61.21L587.4,60.96L588.4,60.74L589.4,60.56L590.4,60.41L591.4,60.30L592.4,60.23L593.4,60.20L594.4,60.22L595.4,60.28L596.4,60.39L597.4,60.55L598.4,60.75L599.4,61.01L600.4,61.33L601.4,61.71L602.4,62.14L603.4,62.64L604.4,63.19L605.4,63.81L606.4,64.48L607.4,65.21L608.4,66.00L609.4,66.84L610.4,67.74L611.4,68.69L612.4,69.69L613.4,70.74L614.4,71.85L615.4,73.01L616.4,74.23L617.4,75.51L618.4,76.86L619.4,78.28L620.4,79.76L621.4,81.29L622.4,82.87L623.4,84.49L624.4,86.14L625.4,87.85L626.4,89.60L627.4,91.39L628.4,93.23L629.4,95.13L630.4,97.06L631.4,99.04L632.4,101.05L633.4,103.08L634.4,105.14L635.4,107.23L636.4,109.34L637.4,111.46L638.4,113.60L639.4,115.76L640.4,117.91L641.4,120.06L642.4,122.21L643.4,124.37L644.4,126.56L645.4,128.81L646.4,131.11L647.4,133.47L648.4,135.86L649.4,138.26L650.4,140.64L651.4,142.98L652.4,145.30L653.4,147.60L654.4,149.90L655.4,152.19L656.4,154.49L657.4,156.78L658.4,159.05L659.4,161.32L660.4,163.57L661.4,165.81L662.4,168.04L663.4,170.26L664.4,172.47L665.4,174.68L666.4,176.89L667.4,179.08L668.4,181.26L669.4,183.43L670.4,185.56L671.4,187.67L672.4,189.74L673.4,191.79L674.4,193.81L675.4,195.82L675.9,196.82" stroke="#c8961e"/>
<path d="M388.4,114.62L389.4,116.98L390.4,119.18L391.4,121.20L392.4,123.04L393.4,124.67L394.4,126.10L395.4,127.32L396.4,128.35L397.4,129.18L398.4,129.82L399.4,130.26L400.4,130.52L401.4,130.60L402.4,130.51L403.4,130.25L404.4,129.82L405.4,129.25L406.4,128.53L407.4,127.69L408.4,126.74L409.4,125.72L410.4,124.64L411.4,123.52L412.4,122.39L413.4,121.26L414.4,120.13L415.4,119.01L416.4,117.92L417.4,116.85L418.4,115.81L419.4,114.80L420.4,113.83L421.4,112.90L422.4,112.02L423.4,111.19L424.4,110.42L425.4,109.72L426.4,109.08L427.4,108.52L428.4,108.04L429.4,107.65L430.4,107.34L431.4,107.12L432.4,106.98L433.4,106.92L434.4,106.94L435.4,107.04L436.4,107.22L437.4,107.48L438.4,107.82L439.4,108.26L440.4,108.78L441.4,109.40L442.4,110.11L443.4,110.88L444.4,111.72L445.4,112.60L446.4,113.51L447.4,114.46L448.4,115.43L449.4,116.44L450.4,117.47L451.4,118.52L452.4,119.58L453.4,120.64L454.4,121.68L455.4,122.72L456.4,123.72L457.4,124.70L458.4,125.64L459.4,126.54L460.4,127.39L461.4,128.20L462.4,128.96L463.4,129.69L464.4,130.39L465.4,131.07L466.4,131.73L467.4,132.38L468.4,133.02L469.4,133.66L470.4,134.31L471.4,134.97L472.4,135.63L473.4,136.30L474.4,136.96L475.4,137.62L476.4,138.27L477.4,138.90L478.4,139.51L479.4,140.10L480.4,140.64L481.4,141.14L482.4,141.60L483.4,142.02L484.4,142.40L485.4,142.73L486.4,143.02L487.4,143.26L488.4,143.45L489.4,143.60L490.4,143.70L491.4,143.74L492.4,143.72L493.4,143.64L494.4,143.50L495.4,143.31L496.4,143.06L497.4,142.76L498.4,142.40L499.4,142.00L500.4,141.54L501.4,141.03L502.4,140.47L503.4,139.86L504.4,139.20L505.4,138.49L506.4,137.75L507.4,136.96L508.4,136.14L509.4,135.28L510.4,134.38L511.4,133.46L512.4,132.52L513.4,131.55L514.4,130.56L515.4,129.55L516.4,128.50L517.4,127.44L518.4,126.35L519.4,125.26L520.4,124.15L521.4,123.04L522.4,121.93L523.4,120.83L524.4,119.72L525.4,118.61L526.4,117.50L527.4,116.37L528.4,115.24L529.4,114.09L530.4,112.93L531.4,111.77L532.4,110.60L533.4,109.43L534.4,108.26L535.4,107.10L536.4,105.93L537.4,104.77L538.4,103.61L539.4,102.46L540.4,101.32L541.4,100.19L542.4,99.07L543.4,97.96L544.4,96.86L545.4,95.78L546.4,94.71L547.4,93.66L548.4,92.63L549.4,91.61L550.4,90.61L551.4,89.63L552.4,88.66L553.4,87.70L554.4,86.77L555.4,85.85L556.4,84.94L557.4,84.05L558.4,83.17L559.4,82.29L560.4,81.41L561.4,80.54L562.4,79.67L563.4,78.82L564.4,77.99L565.4,77.17L566.4,76.37L567.4,75.59L568.4,74.83L569.4,74.08L570.4,73.34L571.4,72.61L572.4,71.90L573.4,71.22L574.4,70.55L575.4,69.92L576.4,69.32L577.4,68.75L578.4,68.22L579.4,67.71L580.4,67.25L581.4,66.83L582.4,66.45L583.4,66.12L584.4,65.83L585.4,65.58L586.4,65.36L587.4,65.18L588.4,65.03L589.4,64.91L590.4,64.83L591.4,64.78L592.4,64.77L593.4,64.80L594.4,64.88L595.4,64.99L596.4,65.15L597.4,65.35L598.4,65.60L599.4,65.90L600.4,66.24L601.4,66.65L602.4,67.10L603.4,67.62L604.4,68.18L605.4,68.80L606.4,69.47L607.4,70.19L608.4,70.97L609.4,71.80L610.4,72.68L611.4,73.61L612.4,74.59L613.4,75.62L614.4,76.69L615.4,77.82L616.4,79.01L617.4,80.25L618.4,81.56L619.4,82.93L620.4,84.35L621.4,85.83L622.4,87.35L623.4,88.91L624.4,90.51L625.4,92.15L626.4,93.84L627.4,95.57L628.4,97.36L629.4,99.18L630.4,101.06L631.4,102.97L632.4,104.93L633.4,106.91L634.4,108.92L635.4,110.96L636.4,113.03L637.4,115.12L638.4,117.22L639.4,119.34L640.4,121.46L641.4,123.58L642.4,125.70L643.4,127.84L644.4,130.00L645.4,132.21L646.4,134.46L647.4,136.76L648.4,139.08L649.4,141.41L650.4,143.73L651.4,146.02L652.4,148.29L653.4,150.55L654.4,152.81L655.4,155.07L656.4,157.33L657.4,159.59L658.4,161.83L659.4,164.07L660.4,166.29L661.4,168.50L662.4,170.70L663.4,172.89L664.4,175.08L665.4,177.25L666.4,179.41L667.4,181.56L668.4,183.70L669.4,185.81L670.4,187.90L671.4,189.96L672.4,191.99L673.4,193.99L674.4,195.97L675.4,197.93L675.9,198.90" stroke="#1cc3c8"/>
<path d="M388.4,113.11L389.4,115.40L390.4,117.52L391.4,119.47L392.4,121.26L393.4,122.87L394.4,124.29L395.4,125.53L396.4,126.58L397.4,127.42L398.4,128.07L399.4,128.51L400.4,128.76L401.4,128.82L402.4,128.70L403.4,128.41L404.4,127.96L405.4,127.35L406.4,126.61L407.4,125.75L408.4,124.79L409.4,123.76L410.4,122.68L411.4,121.56L412.4,120.43L413.4,119.31L414.4,118.19L415.4,117.08L416.4,115.99L417.4,114.93L418.4,113.89L419.4,112.89L420.4,111.92L421.4,110.99L422.4,110.11L423.4,109.29L424.4,108.52L425.4,107.81L426.4,107.17L427.4,106.60L428.4,106.11L429.4,105.69L430.4,105.37L431.4,105.13L432.4,104.98L433.4,104.91L434.4,104.92L435.4,105.01L436.4,105.17L437.4,105.40L438.4,105.70L439.4,106.07L440.4,106.50L441.4,106.99L442.4,107.54L443.4,108.14L444.4,108.79L445.4,109.50L446.4,110.25L447.4,111.04L448.4,111.87L449.4,112.74L450.4,113.64L451.4,114.56L452.4,115.50L453.4,116.44L454.4,117.38L455.4,118.31L456.4,119.22L457.4,120.10L458.4,120.95L459.4,121.76L460.4,122.52L461.4,123.22L462.4,123.89L463.4,124.51L464.4,125.12L465.4,125.71L466.4,126.29L467.4,126.87L468.4,127.47L469.4,128.08L470.4,128.73L471.4,129.41L472.4,130.13L473.4,130.87L474.4,131.62L475.4,132.38L476.4,133.13L477.4,133.87L478.4,134.58L479.4,135.27L480.4,135.91L481.4,136.51L482.4,137.07L483.4,137.58L484.4,138.04L485.4,138.45L486.4,138.80L487.4,139.10L488.4,139.34L489.4,139.52L490.4,139.64L491.4,139.70L492.4,139.69L493.4,139.62L494.4,139.49L495.4,139.29L496.4,139.04L497.4,138.73L498.4,138.36L499.4,137.95L500.4,137.48L501.4,136.96L502.4,136.40L503.4,135.79L504.4,135.14L505.4,134.45L506.4,133.73L507.4,132.96L508.4,132.16L509.4,131.33L510.4,130.47L511.4,129.58L512.4,128.66L513.4,127.72L514.4,126.75L515.4,125.77L516.4,124.77L517.4,123.74L518.4,122.71L519.4,121.66L520.4,120.60L521.4,119.54L522.4,118.47L523.4,117.39L524.4,116.31L525.4,115.23L526.4,114.15L527.4,113.07L528.4,112.00L529.4,110.93L530.4,109.88L531.4,108.84L532.4,107.81L533.4,106.79L534.4,105.79L535.4,104.81L536.4,103.85L537.4,102.90L538.4,101.97L539.4,101.06L540.4,100.17L541.4,99.29L542.4,98.43L543.4,97.58L544.4,96.76L545.4,95.94L546.4,95.15L547.4,94.37L548.4,93.61L549.4,92.87L550.4,92.14L551.4,91.43L552.4,90.74L553.4,90.06L554.4,89.40L555.4,88.75L556.4,88.13L557.4,87.51L558.4,86.92L559.4,86.34L560.4,85.78L561.4,85.23L562.4,84.70L563.4,84.19L564.4,83.70L565.4,83.23L566.4,82.78L567.4,82.35L568.4,81.94L569.4,81.55L570.4,81.18L571.4,80.84L572.4,80.52L573.4,80.22L574.4,79.95L575.4,79.70L576.4,79.48L577.4,79.29L578.4,79.12L579.4,78.98L580.4,78.87L581.4,78.79L582.4,78.73L583.4,78.71L584.4,78.71L585.4,78.75L586.4,78.82L587.4,78.92L588.4,79.05L589.4,79.22L590.4,79.41L591.4,79.65L592.4,79.91L593.4,80.21L594.4,80.54L595.4,80.91L596.4,81.31L597.4,81.75L598.4,82.22L599.4,82.73L600.4,83.27L601.4,83.86L602.4,84.47L603.4,85.13L604.4,85.82L605.4,86.55L606.4,87.32L607.4,88.13L608.4,88.98L609.4,89.86L610.4,90.79L611.4,91.75L612.4,92.75L613.4,93.80L614.4,94.89L615.4,96.01L616.4,97.18L617.4,98.39L618.4,99.65L619.4,100.94L620.4,102.28L621.4,103.65L622.4,105.07L623.4,106.53L624.4,108.02L625.4,109.55L626.4,111.11L627.4,112.71L628.4,114.35L629.4,116.01L630.4,117.71L631.4,119.44L632.4,121.20L633.4,122.98L634.4,124.78L635.4,126.60L636.4,128.44L637.4,130.30L638.4,132.18L639.4,134.07L640.4,135.97L641.4,137.89L642.4,139.82L643.4,141.76L644.4,143.71L645.4,145.67L646.4,147.63L647.4,149.61L648.4,151.58L649.4,153.56L650.4,155.55L651.4,157.54L652.4,159.52L653.4,161.51L654.4,163.50L655.4,165.49L656.4,167.47L657.4,169.45L658.4,171.43L659.4,173.40L660.4,175.36L661.4,177.31L662.4,179.26L663.4,181.20L664.4,183.12L665.4,185.04L666.4,186.94L667.4,188.83L668.4,190.70L669.4,192.56L670.4,194.40L671.4,196.22L672.4,198.03L673.4,199.81L674.4,201.58L675.4,203.32L675.9,204.18" stroke="#8c8c12"/>
</g>
<g class="ax">
<line x1="35.65" y1="250.90" x2="40.45" y2="250.90"/>
<text class="yt" transform="translate(17.40,255.05) scale(0.86,1)">0</text>
<text class="yt" transform="translate(22.70,255.05) scale(0.86,1)">.</text>
<text class="yt" transform="translate(27.45,255.05) scale(0.86,1)">0</text>
<line x1="35.65" y1="192.79" x2="40.45" y2="192.79"/>
<text class="yt" transform="translate(17.40,196.94) scale(0.86,1)">0</text>
<text class="yt" transform="translate(22.70,196.94) scale(0.86,1)">.</text>
<text class="yt" transform="translate(27.45,196.94) scale(0.86,1)">2</text>
<line x1="35.65" y1="134.68" x2="40.45" y2="134.68"/>
<text class="yt" transform="translate(17.40,138.83) scale(0.86,1)">0</text>
<text class="yt" transform="translate(22.70,138.83) scale(0.86,1)">.</text>
<text class="yt" transform="translate(27.45,138.83) scale(0.86,1)">4</text>
<line x1="35.65" y1="76.56" x2="40.45" y2="76.56"/>
<text class="yt" transform="translate(17.40,80.71) scale(0.86,1)">0</text>
<text class="yt" transform="translate(22.70,80.71) scale(0.86,1)">.</text>
<text class="yt" transform="translate(27.45,80.71) scale(0.86,1)">6</text>
<line x1="35.65" y1="18.45" x2="40.45" y2="18.45"/>
<text class="yt" transform="translate(17.40,22.60) scale(0.86,1)">0</text>
<text class="yt" transform="translate(22.70,22.60) scale(0.86,1)">.</text>
<text class="yt" transform="translate(27.45,22.60) scale(0.86,1)">8</text>
<line x1="37.85" y1="221.84" x2="40.45" y2="221.84"/>
<line x1="37.85" y1="163.73" x2="40.45" y2="163.73"/>
<line x1="37.85" y1="105.62" x2="40.45" y2="105.62"/>
<line x1="37.85" y1="47.51" x2="40.45" y2="47.51"/>
<line x1="122.76" y1="250.90" x2="122.76" y2="255.70"/>
<line x1="225.66" y1="250.90" x2="225.66" y2="255.70"/>
<line x1="328.55" y1="250.90" x2="328.55" y2="255.70"/>
<line x1="71.32" y1="250.90" x2="71.32" y2="253.50"/>
<line x1="174.21" y1="250.90" x2="174.21" y2="253.50"/>
<line x1="277.10" y1="250.90" x2="277.10" y2="253.50"/>
<text class="xt" x="71.32" y="267.10">350</text>
<text class="xt" x="122.76" y="267.10">400</text>
<text class="xt" x="174.21" y="267.10">450</text>
<text class="xt" x="225.66" y="267.10">500</text>
<text class="xt" x="277.10" y="267.10">550</text>
<text class="xt" x="328.55" y="267.10">600</text>
<rect x="40.45" y="18.45" width="288.10" height="232.45" fill="none"/>
<text class="xl" transform="translate(184.30,286.5) scale(0.921,1)">wavelength (nm)</text>
<text class="yl" transform="translate(9.15,134.68) rotate(-90)">absorbance</text>
<text class="pl" x="47.45" y="13.3">(a)</text>
<line x1="383.65" y1="250.90" x2="388.45" y2="250.90"/>
<text class="yt" transform="translate(365.40,255.05) scale(0.86,1)">0</text>
<text class="yt" transform="translate(370.70,255.05) scale(0.86,1)">.</text>
<text class="yt" transform="translate(375.45,255.05) scale(0.86,1)">0</text>
<line x1="383.65" y1="192.79" x2="388.45" y2="192.79"/>
<text class="yt" transform="translate(365.40,196.94) scale(0.86,1)">0</text>
<text class="yt" transform="translate(370.70,196.94) scale(0.86,1)">.</text>
<text class="yt" transform="translate(375.45,196.94) scale(0.86,1)">2</text>
<line x1="383.65" y1="134.68" x2="388.45" y2="134.68"/>
<text class="yt" transform="translate(365.40,138.83) scale(0.86,1)">0</text>
<text class="yt" transform="translate(370.70,138.83) scale(0.86,1)">.</text>
<text class="yt" transform="translate(375.45,138.83) scale(0.86,1)">4</text>
<line x1="383.65" y1="76.56" x2="388.45" y2="76.56"/>
<text class="yt" transform="translate(365.40,80.71) scale(0.86,1)">0</text>
<text class="yt" transform="translate(370.70,80.71) scale(0.86,1)">.</text>
<text class="yt" transform="translate(375.45,80.71) scale(0.86,1)">6</text>
<line x1="383.65" y1="18.45" x2="388.45" y2="18.45"/>
<text class="yt" transform="translate(365.40,22.60) scale(0.86,1)">0</text>
<text class="yt" transform="translate(370.70,22.60) scale(0.86,1)">.</text>
<text class="yt" transform="translate(375.45,22.60) scale(0.86,1)">8</text>
<line x1="385.85" y1="221.84" x2="388.45" y2="221.84"/>
<line x1="385.85" y1="163.73" x2="388.45" y2="163.73"/>
<line x1="385.85" y1="105.62" x2="388.45" y2="105.62"/>
<line x1="385.85" y1="47.51" x2="388.45" y2="47.51"/>
<line x1="470.74" y1="250.90" x2="470.74" y2="255.70"/>
<line x1="573.59" y1="250.90" x2="573.59" y2="255.70"/>
<line x1="676.45" y1="250.90" x2="676.45" y2="255.70"/>
<line x1="419.31" y1="250.90" x2="419.31" y2="253.50"/>
<line x1="522.16" y1="250.90" x2="522.16" y2="253.50"/>
<line x1="625.02" y1="250.90" x2="625.02" y2="253.50"/>
<text class="xt" x="419.31" y="267.10">350</text>
<text class="xt" x="470.74" y="267.10">400</text>
<text class="xt" x="522.16" y="267.10">450</text>
<text class="xt" x="573.59" y="267.10">500</text>
<text class="xt" x="625.02" y="267.10">550</text>
<text class="xt" x="676.45" y="267.10">600</text>
<rect x="388.45" y="18.45" width="288.00" height="232.45" fill="none"/>
<text class="xl" transform="translate(532.25,286.5) scale(0.921,1)">wavelength (nm)</text>
<text class="yl" transform="translate(357.15,134.68) rotate(-90)">absorbance</text>
<text class="pl" x="395.45" y="13.3">(b)</text>
</g>
<line class="ar" x1="120.40" y1="91.70" x2="120.40" y2="124.40"/><path class="ah" d="M119.90,131.20 L120.90,131.20 L122.40,124.40 L118.40,124.40 Z"/>
<text class="an" x="123.2" y="98.4">0</text>
<text class="an" x="124.3" y="132.8">15 min</text>
<line class="ar" x1="296.60" y1="96.60" x2="296.60" y2="49.00"/><path class="ah" d="M296.10,42.20 L297.10,42.20 L298.60,49.00 L294.60,49.00 Z"/>
<text class="an" x="299.2" y="51.6">15 min</text>
<text class="an" x="300.6" y="98.3">0</text>
<line class="ar" x1="477.60" y1="126.20" x2="477.60" y2="94.20"/><path class="ah" d="M477.10,87.40 L478.10,87.40 L479.60,94.20 L475.60,94.20 Z"/>
<text class="an" x="480.6" y="98.5">360 min</text>
<text class="an" x="479.5" y="131.7">15</text>
<line class="ar" x1="638.40" y1="23.30" x2="638.40" y2="68.00"/><path class="ah" d="M637.90,74.80 L638.90,74.80 L640.40,68.00 L636.40,68.00 Z"/>
<text class="an" x="641.6" y="32.3">15</text>
<text class="an" x="641.8" y="74.8">360 min</text>
</svg>
</body></html>
